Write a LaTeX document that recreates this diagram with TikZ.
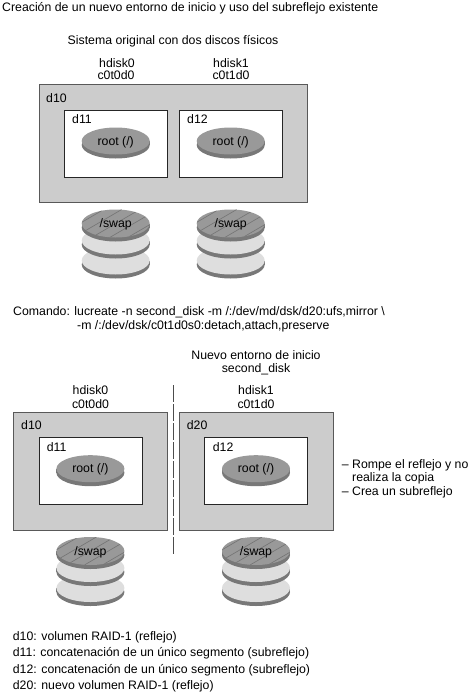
\documentclass[tikz,border=0pt]{standalone}
\usepackage{fontspec}
\setmainfont{Liberation Sans}
\definecolor{boxgray}{gray}{0.8}
\definecolor{rootgray}{gray}{0.6}
\definecolor{rimgray}{gray}{0.47}
\definecolor{disklight}{gray}{0.87}
\tikzset{
  lbl/.style={inner sep=0pt, font=\fontsize{12.3}{14}\selectfont},
  lblleft/.style={lbl, anchor=base west},
  lblmid/.style={lbl, anchor=base},
  outerbox/.style={draw=black!65, fill=boxgray, line width=0.8pt, inner sep=0pt, minimum height=118pt},
  innerbox/.style={draw=black!85, fill=white, line width=0.8pt, inner sep=0pt, minimum width=103pt, minimum height=67pt}
}
\begin{document}
\begin{tikzpicture}[x=1pt, y=-1pt]
  \useasboundingbox (0,0) rectangle (470,693);

  \node[lblleft] (title) at (2,12) {Creación de un nuevo entorno de inicio y uso del subreflejo existente};
  \node[lblmid] (orig) at (173,45) {Sistema original con dos discos físicos};

  % cajas
  \node[outerbox, minimum width=268pt] (d10a) at (173,143.5) {};
  \node[innerbox] (d11a) at (115.7,143.5) {};
  \node[innerbox] (d12a) at (230.5,143.5) {};
  \node[outerbox, minimum width=154pt] (d10b) at (90.3,471) {};
  \node[innerbox] (d11b) at (90.5,471) {};
  \node[outerbox, minimum width=154pt] (d20b) at (256,471) {};
  \node[innerbox] (d12b) at (256,471) {};

  \node[lblleft] at (46,102) {d10};
  \node[lblleft] at (72,123) {d11};
  \node[lblleft] at (187,123) {d12};
  \node[lblleft] at (21,429) {d10};
  \node[lblleft] at (46.7,451) {d11};
  \node[lblleft] at (186.7,429) {d20};
  \node[lblleft] at (212.7,451) {d12};

  % discos root
  \foreach \cx/\cy in {115.7/141, 230.7/141, 90.4/468.7, 256/468.7} {
    \fill[rimgray] (\cx-34,\cy) rectangle (\cx+34,\cy+4);
    \fill[rimgray] (\cx,\cy+4) ellipse[x radius=34, y radius=13.5];
    \fill[rootgray] (\cx,\cy) ellipse[x radius=34, y radius=13.5];
    \node[lblmid] at (\cx,\cy+4) {root (/)};
  }

  % pilas swap
  \foreach \cx/\cy in {115.7/223.5, 230.7/223.5, 90.4/551, 256/551} {
    \foreach \dy in {37,17} {
      \fill[rimgray] (\cx-34,\cy+\dy) rectangle (\cx+34,\cy+\dy+4);
      \fill[rimgray] (\cx,\cy+\dy+4) ellipse[x radius=34, y radius=14];
      \fill[disklight] (\cx,\cy+\dy) ellipse[x radius=34, y radius=14];
    }
    \fill[rimgray] (\cx-34,\cy) rectangle (\cx+34,\cy+4);
    \fill[rimgray] (\cx,\cy+4) ellipse[x radius=34, y radius=14];
    \fill[rootgray] (\cx,\cy) ellipse[x radius=34, y radius=14];
    \begin{scope}
      \clip (\cx,\cy) ellipse[x radius=34, y radius=14];
      \foreach \s in {-54,-36,-18,0,18,36,54} {
        \draw[black!55, line width=0.6pt] (\cx+\s-24,\cy+14) -- (\cx+\s+24,\cy-14);
      }
    \end{scope}
    \node[lblmid] at (\cx,\cy+4) {/swap};
  }

  \node[lblmid] at (117,67) {hdisk0};
  \node[lblmid] at (116,80) {c0t0d0};
  \node[lblmid] at (231,67) {hdisk1};
  \node[lblmid] at (231,80) {c0t1d0};

  \node[lblleft] at (13,315) {Comando: lucreate -n second\_disk -m /:/dev/md/dsk/d20:ufs,mirror \textbackslash};
  \node[lblleft] at (77,329) {-m /:/dev/dsk/c0t1d0s0:detach,attach,preserve};

  \node[lblmid] at (256,359) {Nuevo entorno de inicio};
  \node[lblmid] at (256,372.5) {second\_disk};
  \node[lblmid] at (90.5,394) {hdisk0};
  \node[lblmid] at (90.5,408) {c0t0d0};
  \node[lblmid] at (256,394) {hdisk1};
  \node[lblmid] at (256,408) {c0t1d0};

  % separacion
  \coordinate (septop) at (173.3,385);
  \coordinate (sepbot) at (173.3,555.5);
  \draw[black!70, line width=0.9pt, dash pattern=on 16.5pt off 2.5pt] (septop) -- (sepbot);

  \node[lblleft] at (341.7,468.3) {– Rompe el reflejo y no};
  \node[lblleft] at (352,481.8) {realiza la copia};
  \node[lblleft] at (341.7,495.7) {– Crea un subreflejo};

  \node[lblleft] at (12.7,640.5) {d10: volumen RAID-1 (reflejo)};
  \node[lblleft] at (12.7,656.7) {d11: concatenación de un único segmento (subreflejo)};
  \node[lblleft] at (12.7,673) {d12: concatenación de un único segmento (subreflejo)};
  \node[lblleft] at (12.7,689) {d20: nuevo volumen RAID-1 (reflejo)};
\end{tikzpicture}
\end{document}
